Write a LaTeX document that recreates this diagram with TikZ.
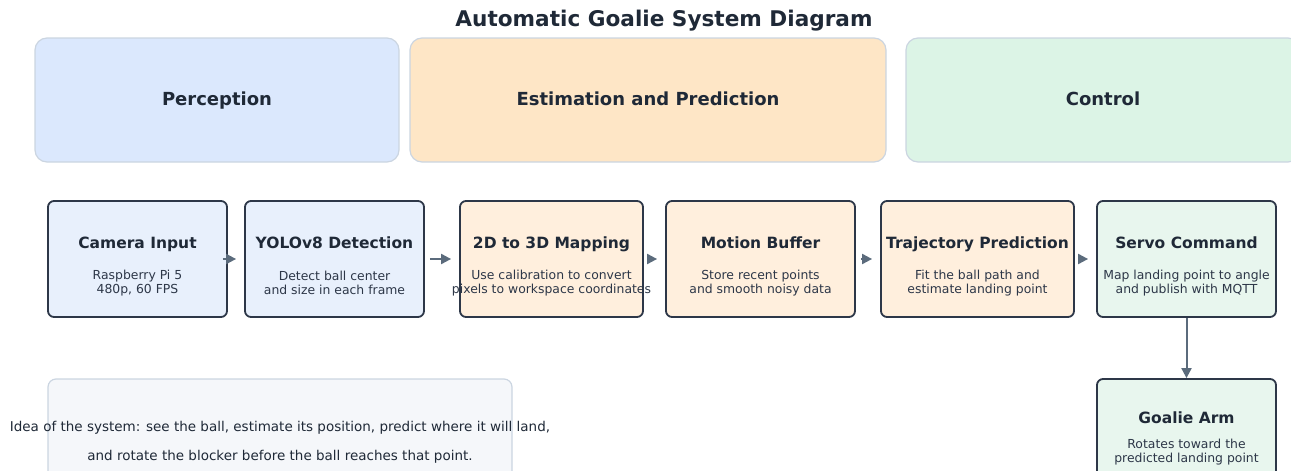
\documentclass[tikz,border=0pt]{standalone}
\usepackage{fontspec}
\setmainfont{DejaVu Sans}
\usetikzlibrary{arrows.meta}

\definecolor{ink}{HTML}{1F2937}
\definecolor{edge}{HTML}{2D3748}
\definecolor{soft}{HTML}{CBD5E1}
\definecolor{flowgray}{HTML}{5B6B7C}
\definecolor{percbg}{HTML}{DBE8FD}
\definecolor{estbg}{HTML}{FEE6C6}
\definecolor{ctrlbg}{HTML}{DCF4E6}
\definecolor{percbox}{HTML}{E8F0FC}
\definecolor{estbox}{HTML}{FFEFDD}
\definecolor{ctrlbox}{HTML}{E8F6EE}
\definecolor{notebg}{HTML}{F5F7FA}

\tikzset{group/.style = {draw=soft, line width=1.2pt, rounded corners=12pt, inner sep=0pt,
                         minimum height=124pt, text height=12pt, text depth=1pt, text=ink,
                         font=\bfseries\fontsize{18}{22}\selectfont}}
\tikzset{stepbox/.style = {draw=edge, line width=1.8pt, rounded corners=6pt, inner sep=0pt,
                           minimum height=116pt}}
\tikzset{steptitle/.style = {text=ink, inner sep=0pt, anchor=base, font=\bfseries\fontsize{15.5}{18}\selectfont}}
\tikzset{stepnote/.style = {text=edge, inner sep=0pt, align=center, font=\fontsize{12.4}{14.6}\selectfont}}
\tikzset{flow/.style = {draw=flowgray, line width=2pt, -{Triangle[length=10pt, width=10pt]},
                        shorten <=5pt, shorten >=8pt}}

\begin{document}
\begin{tikzpicture}[x=1pt, y=-1pt]
      \useasboundingbox (0,0) rectangle (1291,471);
      \node [font=\bfseries\fontsize{21.6}{26}\selectfont, text=ink] (title) at (664,21) {Automatic Goalie System Diagram};
      % stage bands
      \node [group, fill=percbg, minimum width=364pt] (perc) at (217,100) {Perception};
      \node [group, fill=estbg, minimum width=476pt] (est) at (648,100) {Estimation and Prediction};
      \node [group, fill=ctrlbg, minimum width=394pt] (ctrl) at (1103,100) {Control};
      % processing steps
      \foreach \n/\x/\w/\c/\t/\a/\b in {
          cam/137.5/179/percbox/Camera Input/Raspberry Pi 5/{480p, 60 FPS},
          yolo/334.5/179/percbox/YOLOv8 Detection/Detect ball center/and size in each frame,
          map/551.5/183/estbox/2D to 3D Mapping/Use calibration to convert/pixels to workspace coordinates,
          buf/760.5/189/estbox/Motion Buffer/Store recent points/and smooth noisy data,
          traj/977.5/193/estbox/Trajectory Prediction/Fit the ball path and/estimate landing point,
          servo/1186.5/179/ctrlbox/Servo Command/Map landing point to angle/and publish with MQTT}{
      \node [stepbox, fill=\c, minimum width=\w pt] (\n) at (\x,259) {};
      \node [steptitle] (\n-t) at (\x,248.5) {\t};
      \node [stepnote] (\n-d) at (\x,283) {\a\\\b};}
      \node [stepbox, fill=ctrlbox, minimum width=179pt] (arm) at (1186.5,437) {};
      \node [steptitle] (arm-t) at (1186.5,423.5) {Goalie Arm};
      \node [stepnote] (arm-d) at (1186.5,452) {Rotates toward the\\predicted landing point};
      % summary
      \node [draw=soft, line width=1.2pt, fill=notebg, rounded corners=8pt, minimum width=464pt,
             minimum height=110pt] (note) at (280,434) {};
      \node [text=ink, align=center, font=\fontsize{13.5}{29}\selectfont] (idea) at (280,442.5)
            {Idea of the system: see the ball, estimate its position, predict where it will land,\\
             and rotate the blocker before the ball reaches that point.};
      % data flow
      \foreach \a/\b in {cam/yolo, yolo/map, map/buf, buf/traj, traj/servo}{
      \draw [flow] (\a) -- (\b);}
      \draw [flow, shorten <=0pt, shorten >=0pt] (servo) -- (arm);
\end{tikzpicture}
\end{document}
